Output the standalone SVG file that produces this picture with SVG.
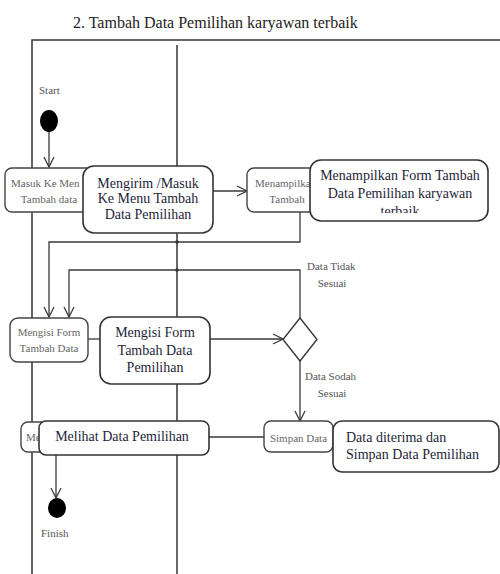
<svg xmlns="http://www.w3.org/2000/svg" width="500" height="574" viewBox="0 0 500 574">
  <style>
    .frame { fill: none; stroke: #333; stroke-width: 1.5; }
    .edge { fill: none; stroke: #3a3a3a; stroke-width: 1.3; }
    .small { fill: #fff; stroke: #444; stroke-width: 1.4; }
    .big { fill: #fff; stroke: #333; stroke-width: 1.6; }
    .t-small { font-family: "Liberation Serif", "Times New Roman", serif; font-size: 11px; fill: #666; }
    .t-big { font-family: "Liberation Serif", "Times New Roman", serif; font-size: 14px; fill: #1e1e38; }
    .t-label { font-family: "Liberation Serif", "Times New Roman", serif; font-size: 11px; fill: #555; }
    .t-title { font-family: "Liberation Serif", "Times New Roman", serif; font-size: 16px; fill: #222; }
  </style>
  <defs>
    <marker id="open" viewBox="0 0 12 12" refX="11" refY="6" markerWidth="12" markerHeight="12" markerUnits="userSpaceOnUse" orient="auto">
      <path d="M1,1 L11,6 L1,11" fill="none" stroke="#3a3a3a" stroke-width="1.3"/>
    </marker>
    <clipPath id="clip-terbaik">
      <rect x="310" y="150" width="190" height="63"/>
    </clipPath>
  </defs>

  <rect width="500" height="574" fill="#fff"/>

  <text class="t-title" x="73" y="28">2. Tambah Data Pemilihan karyawan terbaik</text>

  <!-- swimlane frame -->
  <g id="frame">
    <path class="frame" d="M32,574 V40 H500"/>
    <line class="frame" x1="177" y1="45" x2="177" y2="574"/>
  </g>

  <!-- connectors -->
  <g id="connectors">
    <line class="edge" x1="49" y1="131" x2="49" y2="167" marker-end="url(#open)"/>
    <line class="edge" x1="213" y1="191" x2="247" y2="191" marker-end="url(#open)"/>
    <path class="edge" d="M300,212 V242 H49 V317" marker-end="url(#open)"/>
    <path class="edge" d="M300,318 V270 H69 V317" marker-end="url(#open)"/>
    <line class="edge" x1="88" y1="339" x2="100" y2="339"/>
    <line class="edge" x1="210" y1="339" x2="283" y2="339" marker-end="url(#open)"/>
    <line class="edge" x1="300" y1="361" x2="300" y2="421" marker-end="url(#open)"/>
    <line class="edge" x1="209" y1="437" x2="264" y2="437"/>
    <line class="edge" x1="56" y1="455" x2="56" y2="498" marker-end="url(#open)"/>
    <circle cx="177" cy="242" r="1.8" fill="#333"/>
    <circle cx="177" cy="270" r="1.8" fill="#333"/>
    <text class="t-label" x="307" y="270">Data Tidak</text>
    <text class="t-label" x="332" y="287" text-anchor="middle">Sesuai</text>
    <text class="t-label" x="305" y="380">Data Sodah</text>
    <text class="t-label" x="332" y="397" text-anchor="middle">Sesuai</text>
  </g>

  <g id="start">
    <ellipse cx="49" cy="121" rx="9" ry="11" fill="#000"/>
    <text class="t-label" x="39" y="94">Start</text>
  </g>

  <g id="masuk-menu">
    <rect class="small" x="5" y="168" width="90" height="44" rx="7"/>
    <text class="t-small" x="11" y="187">Masuk Ke Men</text>
    <text class="t-small" x="49" y="203" text-anchor="middle">Tambah data</text>
  </g>

  <g id="mengirim">
    <rect class="big" x="83" y="166" width="130" height="67" rx="11"/>
    <text class="t-big" x="148" y="187.5" text-anchor="middle">Mengirim /Masuk</text>
    <text class="t-big" x="148" y="203" text-anchor="middle">Ke Menu Tambah</text>
    <text class="t-big" x="148" y="218.5" text-anchor="middle">Data Pemilihan</text>
  </g>

  <g id="menampilkan-form">
    <rect class="small" x="247" y="168" width="80" height="44" rx="7"/>
    <text class="t-small" x="255" y="187">Menampilka</text>
    <text class="t-small" x="287" y="203" text-anchor="middle">Tambah</text>
  </g>

  <g id="menampilkan-note">
    <rect class="big" x="310" y="160" width="178" height="61" rx="11"/>
    <text class="t-big" x="400" y="180" text-anchor="middle">Menampilkan Form Tambah</text>
    <text class="t-big" x="400" y="198" text-anchor="middle">Data Pemilihan karyawan</text>
    <text class="t-big" x="400" y="216" text-anchor="middle" font-size="12" clip-path="url(#clip-terbaik)">terbaik</text>
  </g>

  <g id="mengisi-form">
    <rect class="small" x="10" y="318" width="78" height="44" rx="8"/>
    <text class="t-small" x="49" y="336" text-anchor="middle">Mengisi Form</text>
    <text class="t-small" x="49" y="352" text-anchor="middle">Tambah Data</text>
  </g>

  <g id="mengisi-note">
    <rect class="big" x="100" y="317" width="110" height="67" rx="11"/>
    <text class="t-big" x="155" y="337" text-anchor="middle">Mengisi Form</text>
    <text class="t-big" x="155" y="355" text-anchor="middle">Tambah Data</text>
    <text class="t-big" x="155" y="372" text-anchor="middle">Pemilihan</text>
  </g>

  <g id="decision">
    <polygon points="300,318 317,339.5 300,361 283,339.5" fill="#fff" stroke="#3a3a3a" stroke-width="1.4"/>
  </g>

  <g id="simpan-data">
    <rect class="small" x="264" y="421" width="69" height="31" rx="7"/>
    <text class="t-small" x="298.5" y="442" text-anchor="middle" font-size="11.5">Simpan Data</text>
  </g>

  <g id="simpan-note">
    <rect class="big" x="333" y="421" width="166" height="51" rx="9"/>
    <text class="t-big" x="346" y="442">Data diterima dan</text>
    <text class="t-big" x="346" y="459">Simpan Data Pemilihan</text>
  </g>

  <g id="melihat-data">
    <rect class="small" x="21" y="422" width="30" height="30" rx="7"/>
    <text class="t-small" x="26" y="441">Me</text>
  </g>

  <g id="melihat-note">
    <rect class="big" x="39" y="421" width="170" height="34" rx="7"/>
    <text class="t-big" x="122" y="441" text-anchor="middle">Melihat Data Pemilihan</text>
  </g>

  <g id="finish">
    <ellipse cx="57" cy="508" rx="9" ry="10" fill="#000"/>
    <text class="t-label" x="41" y="537">Finish</text>
  </g>
</svg>
